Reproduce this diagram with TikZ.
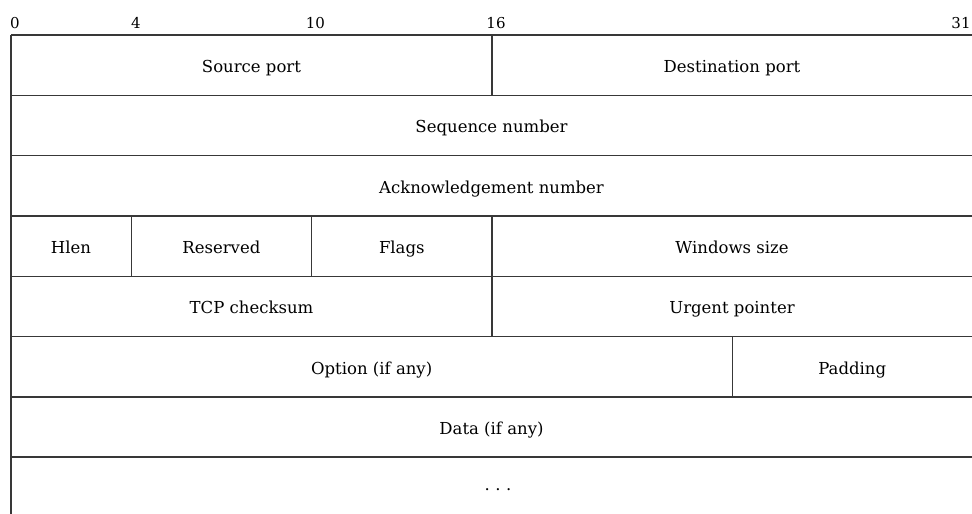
\documentclass[tikz,border=0pt]{standalone}
\usepackage{fontspec}
\setmainfont{DejaVu Serif}
\begin{document}
\begin{tikzpicture}[x=1pt,y=-1pt,
  grid/.style={line width=1.3pt, draw=black!78},
  cell/.style={font=\fontsize{16.5}{18}\selectfont, anchor=center, inner sep=0pt, text height=12pt, text depth=0pt},
  bitlabel/.style={font=\fontsize{15}{17}\selectfont, anchor=base, inner sep=0pt}]
\useasboundingbox (0,0) rectangle (972,514);
% horizontal lines
\foreach \y in {35,95.3,155.6,216,276.3,336.6,397,457}
  \draw[grid] (11,\y) -- (972,\y);
% left border
\draw[grid] (11,35) -- (11,514);
% vertical separators
\draw[grid] (491.96,35) -- (491.96,95.3);
\draw[grid] (131.24,216) -- (131.24,276.3);
\draw[grid] (311.6,216) -- (311.6,276.3);
\draw[grid] (491.96,216) -- (491.96,336.6);
\draw[grid] (732.44,336.6) -- (732.44,397);
% bit labels
\node[bitlabel] (b0)  at (15,28) {0};
\node[bitlabel] (b4)  at (136,28) {4};
\node[bitlabel] (b10) at (315.5,28) {10};
\node[bitlabel] (b16) at (496,28) {16};
\node[bitlabel] (b31) at (961,28) {31};
% cells
\node[cell] (src)  at (251.5,66.5) {Source port};
\node[cell] (dst)  at (732,66.5) {Destination port};
\node[cell] (seq)  at (491.5,126.5) {Sequence number};
\node[cell] (ack)  at (491.5,187) {Acknowledgement number};
\node[cell] (hlen) at (71,247) {Hlen};
\node[cell] (res)  at (221.4,247) {Reserved};
\node[cell] (flg)  at (401.8,247) {Flags};
\node[cell] (win)  at (732,247) {Windows size};
\node[cell] (chk)  at (251.5,307.5) {TCP checksum};
\node[cell] (urg)  at (732,307.5) {Urgent pointer};
\node[cell] (opt)  at (371.7,368) {Option (if any)};
\node[cell] (pad)  at (852.2,368) {Padding};
\node[cell] (data) at (491.5,428) {Data (if any)};
\node[cell] (more) at (498,484) {.\,\,.\,\,.};
\end{tikzpicture}
\end{document}
